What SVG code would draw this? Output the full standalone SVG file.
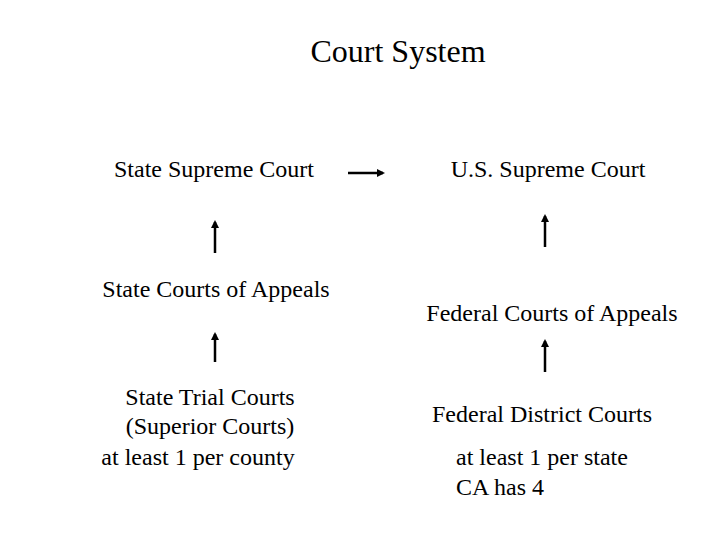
<svg xmlns="http://www.w3.org/2000/svg" width="720" height="540" viewBox="0 0 720 540">
<style>
text{font-family:"Liberation Serif","Times New Roman",serif;fill:#000;font-size:24px}
.t{font-size:32px}
.c line{stroke:#000;stroke-width:2.5}
</style>
<defs>
<marker id="ah" markerWidth="8" markerHeight="8" refX="6" refY="4" orient="auto" markerUnits="userSpaceOnUse">
<path d="M0,0 L8,4 L0,8 Z" fill="#000"/>
</marker>
</defs>
<rect width="720" height="540" fill="#fff"/>
<g id="title"><text class="t" x="398" y="62" text-anchor="middle">Court System</text></g>
<g id="state-supreme"><text x="214" y="177" text-anchor="middle">State Supreme Court</text></g>
<g id="us-supreme"><text x="548" y="177" text-anchor="middle">U.S. Supreme Court</text></g>
<g id="state-appeals"><text x="216" y="297" text-anchor="middle">State Courts of Appeals</text></g>
<g id="federal-appeals"><text x="552" y="321" text-anchor="middle">Federal Courts of Appeals</text></g>
<g id="state-trial">
<text x="210" y="405" text-anchor="middle">State Trial Courts</text>
<text x="210" y="434" text-anchor="middle">(Superior Courts)</text>
<text x="198" y="465" text-anchor="middle">at least 1 per county</text>
</g>
<g id="federal-district">
<text x="542" y="422" text-anchor="middle">Federal District Courts</text>
<text x="456" y="465">at least 1 per state</text>
<text x="456" y="495">CA has 4</text>
</g>
<g class="c" id="connectors">
<line x1="348" y1="173" x2="383" y2="173" marker-end="url(#ah)"/>
<line x1="215" y1="253" x2="215" y2="222" marker-end="url(#ah)"/>
<line x1="545" y1="247" x2="545" y2="216" marker-end="url(#ah)"/>
<line x1="215" y1="362" x2="215" y2="334" marker-end="url(#ah)"/>
<line x1="545" y1="372" x2="545" y2="341" marker-end="url(#ah)"/>
</g>
</svg>
